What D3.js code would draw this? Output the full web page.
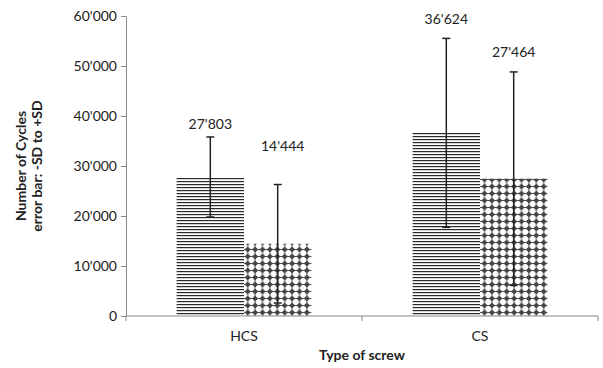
<!DOCTYPE html>
<html><head><meta charset="utf-8">
<script src="https://cdn.jsdelivr.net/npm/d3@7"></script>
<style>body{margin:0;background:#fff}svg{display:block}text{font-family:Lato,"Open Sans",sans-serif;fill:#222}</style>
</head><body><svg id="c" width="603" height="368"></svg>
<script>
const categories = ["HCS", "CS"];
const series = ["s1", "s2"];
const means = [[27803, 14444], [36624, 27464]];
const sds = [[8000, 11850], [18900, 21350]];
const valueLabels = [["27'803", "14'444"], ["36'624", "27'464"]];
const labelAt = [[38500, 34200], [59600, 53000]];
const yTicks = [0, 10000, 20000, 30000, 40000, 50000, 60000];
const yTitle = ["Number of Cycles", "error bar: -SD to +SD"];
const xTitle = "Type of screw";

const svg = d3.select("#c");
const L = 126, R = 598, T = 16, B = 316;
const x = d3.scaleBand().domain(categories).range([L, R]).paddingInner(0).paddingOuter(0);
const bw = x.bandwidth();
const gap = bw * 0.2145;
const xs = d3.scaleBand().domain(series).range([gap, bw - gap]);
const y = d3.scaleLinear().domain([0, 60000]).range([B, T]);
const fmt = v => d3.format(",")(v).replace(/,/g, "'");

const defs = svg.append("defs");
const p1 = defs.append("pattern").attr("id", "hl").attr("patternUnits", "userSpaceOnUse")
  .attr("width", 8).attr("height", 3).attr("y", B);
p1.append("rect").attr("width", 8).attr("height", 3).attr("fill", "#fff");
p1.append("rect").attr("y", 0).attr("width", 8).attr("height", 1.2).attr("fill", "#2a2a2a");
const p2 = defs.append("pattern").attr("id", "dm").attr("patternUnits", "userSpaceOnUse")
  .attr("width", 7.4).attr("height", 7).attr("x", L + x.bandwidth()/2).attr("y", B);
p2.append("rect").attr("width", 7.4).attr("height", 7).attr("fill", "#fff");
p2.append("path").attr("d", "M0,3.5H7.4M3.7,0V7").attr("stroke", "#555").attr("stroke-width", 1);
p2.append("path").attr("d", "M3.7,0.4L6.8,3.5L3.7,6.6L0.6,3.5Z").attr("fill", "#444");

// y axis
const ya = svg.append("g").attr("transform", `translate(${L},0)`)
  .call(d3.axisLeft(y).tickValues(yTicks).tickSize(5).tickFormat(fmt));
ya.select(".domain").attr("stroke", "#888");
ya.selectAll(".tick line").attr("stroke", "#888");
ya.selectAll(".tick text").attr("font-size", 14).attr("fill", "#222").attr("x", -9)
  .style("font-family", "Lato");

// bars
categories.forEach((c, i) => {
  series.forEach((s, j) => {
    const x0 = x(c) + xs(s);
    svg.append("rect").attr("x", x0).attr("y", y(means[i][j])).attr("width", xs.bandwidth())
      .attr("height", B - y(means[i][j])).attr("fill", j === 0 ? "url(#hl)" : "url(#dm)");
  });
});

// x axis
const xa = svg.append("g").attr("transform", `translate(0,${B})`);
xa.append("line").attr("x1", L).attr("x2", R).attr("stroke", "#888");
[L, L + bw, R].forEach(t => xa.append("line").attr("x1", t).attr("x2", t).attr("y1", 0).attr("y2", 5).attr("stroke", "#888"));
categories.forEach(c => xa.append("text").attr("x", x(c) + bw/2).attr("y", 25)
  .attr("text-anchor", "middle").attr("font-size", 14).text(c));

// error bars & labels
categories.forEach((c, i) => {
  series.forEach((s, j) => {
    const cx = x(c) + xs(s) + xs.bandwidth()/2;
    const hi = y(means[i][j] + sds[i][j]), lo = y(means[i][j] - sds[i][j]);
    const g = svg.append("g").attr("stroke", "#222").attr("stroke-width", 1.5);
    g.append("line").attr("x1", cx).attr("x2", cx).attr("y1", hi).attr("y2", lo);
    g.append("line").attr("x1", cx - 4).attr("x2", cx + 4).attr("y1", hi).attr("y2", hi);
    g.append("line").attr("x1", cx - 4).attr("x2", cx + 4).attr("y1", lo).attr("y2", lo);
    svg.append("text").attr("x", cx + (j === 1 && i === 0 ? 5 : 0)).attr("y", y(labelAt[i][j]))
      .attr("text-anchor", "middle").attr("dominant-baseline", "central")
      .attr("font-size", 14).text(valueLabels[i][j]);
  });
});

// titles
const yt = svg.append("text").attr("transform", `translate(34,${(T + B)/2}) rotate(-90)`)
  .attr("text-anchor", "middle").attr("font-size", 14).attr("font-weight", "bold");
yt.append("tspan").attr("x", 0).attr("dy", "-0.55em").text(yTitle[0]);
yt.append("tspan").attr("x", 0).attr("dy", "1.15em").text(yTitle[1]);
svg.append("text").attr("x", (L + R)/2).attr("y", 360).attr("text-anchor", "middle")
  .attr("font-size", 14).attr("font-weight", "bold").text(xTitle);
</script></body></html>
